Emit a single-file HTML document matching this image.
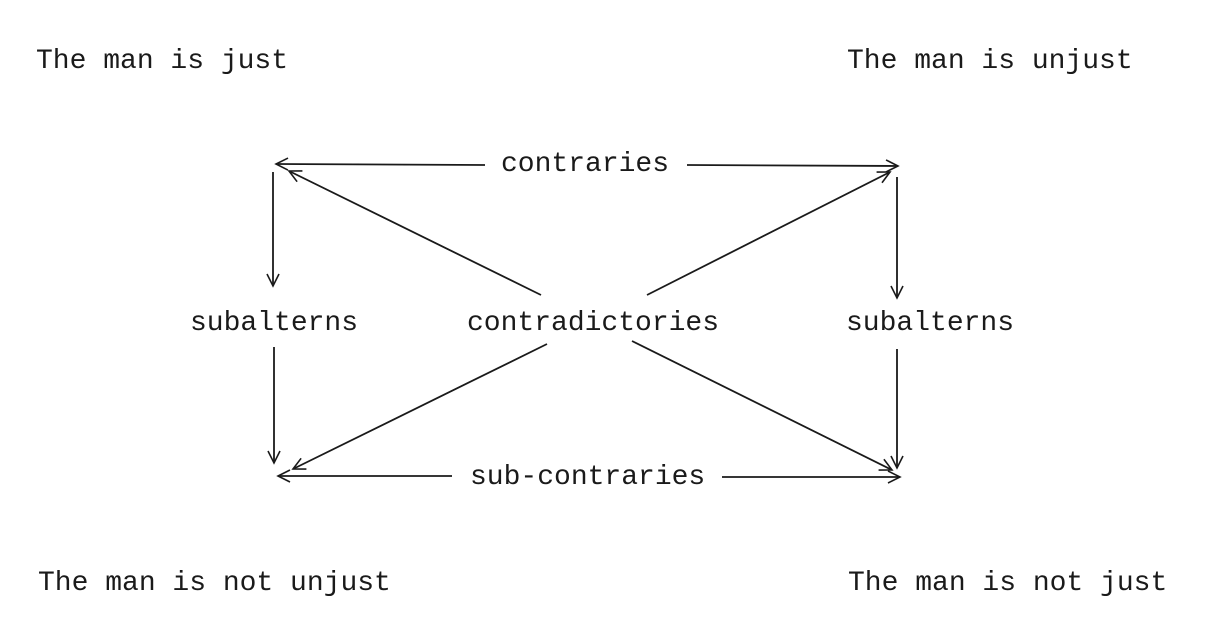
<!DOCTYPE html>
<html><head><meta charset="utf-8"><style>
html,body{margin:0;padding:0;background:#fff;}
svg{display:block}
text{font-family:"Liberation Mono",monospace;font-size:28px;fill:#1a1a1a;}
</style></head><body>
<svg width="1227" height="634" viewBox="0 0 1227 634" xmlns="http://www.w3.org/2000/svg">
<defs>
<marker id="a" markerWidth="16" markerHeight="16" refX="14" refY="8" orient="auto" markerUnits="userSpaceOnUse">
<path d="M2,2 L14,8 L2,14" fill="none" stroke="#1a1a1a" stroke-width="1.6"/>
</marker>
</defs>
<text x="36" y="68">The man is just</text>
<text x="847" y="68">The man is unjust</text>
<text x="190" y="330">subalterns</text>
<text x="467" y="330">contradictories</text>
<text x="846" y="330">subalterns</text>
<text x="501" y="171">contraries</text>
<text x="470" y="484">sub-contraries</text>
<text x="38" y="590">The man is not unjust</text>
<text x="848" y="590">The man is not just</text>
<g stroke="#1a1a1a" stroke-width="1.8" fill="none" marker-end="url(#a)">
<line x1="485" y1="165" x2="276" y2="164"/>
<line x1="687" y1="165" x2="898" y2="166"/>
<line x1="273" y1="172" x2="273" y2="286"/>
<line x1="274" y1="347" x2="274" y2="463"/>
<line x1="897" y1="177" x2="897" y2="298"/>
<line x1="897" y1="349" x2="897" y2="468"/>
<line x1="452" y1="476" x2="278" y2="476"/>
<line x1="722" y1="477" x2="900" y2="477"/>
<line x1="541" y1="295" x2="289" y2="171"/>
<line x1="647" y1="295" x2="890" y2="172"/>
<line x1="547" y1="344" x2="293" y2="469"/>
<line x1="632" y1="341" x2="892" y2="470"/>
</g>
</svg>
</body></html>
